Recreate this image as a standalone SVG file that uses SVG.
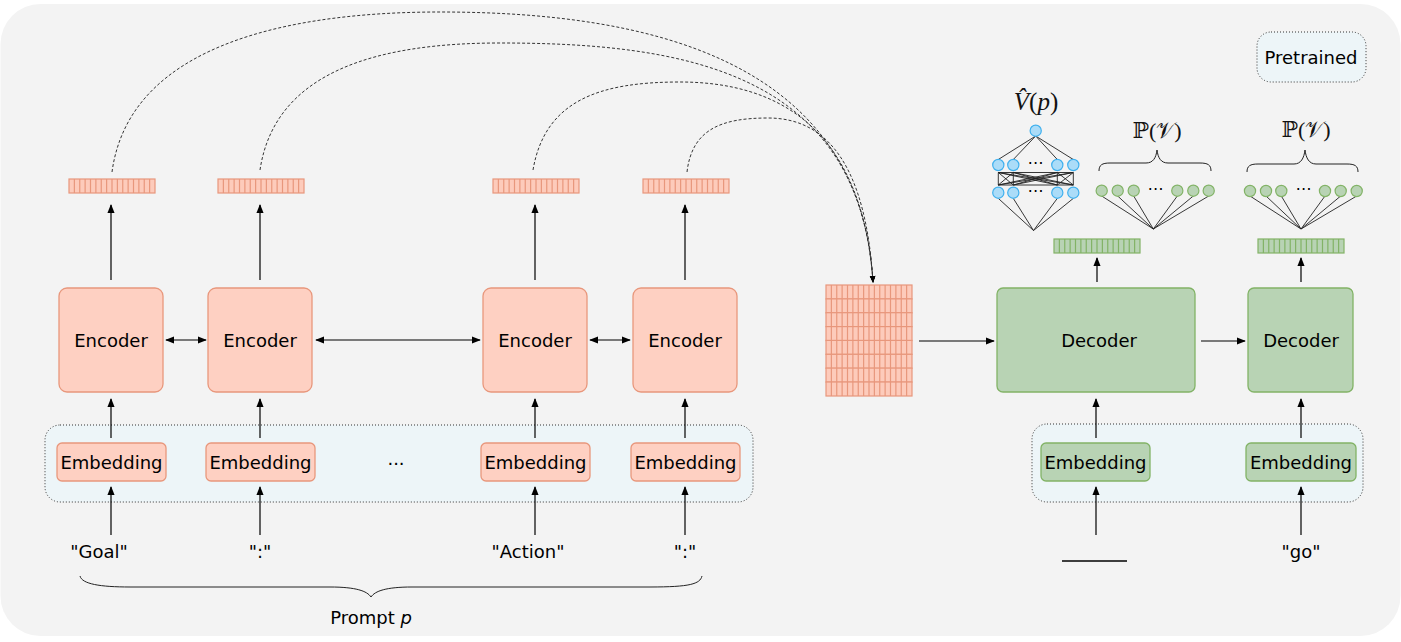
<svg xmlns="http://www.w3.org/2000/svg" xmlns:xlink="http://www.w3.org/1999/xlink" width="1401" height="642" viewBox="0 0 1401 642">
  <style>
    .lbl { font-family: "DejaVu Sans", "Liberation Sans", sans-serif; font-size: 18px; fill: #000; text-anchor: middle; dominant-baseline: central; }
    .dots { font-size: 16px; }
    .math { font-family: "Liberation Serif", "DejaVu Serif", serif; font-size: 22px; fill: #111; text-anchor: middle; }
    .math.big { font-size: 25px; }
    .enc { fill: #fed0c2; stroke: #e8977c; stroke-width: 1.3; }
    .dec { fill: #b8d3b4; stroke: #82b366; stroke-width: 1.3; }
    .panel { fill: #edf5f8; stroke: #333; stroke-width: 1; stroke-dasharray: 1 2; }
    .arrow { fill: none; stroke: #000; stroke-width: 1.2; marker-end: url(#arr); }
    .arrow2 { fill: none; stroke: #000; stroke-width: 1.2; marker-start: url(#arr); marker-end: url(#arr); }
    .attn { fill: none; stroke: #333; stroke-width: 1; stroke-dasharray: 3 2; }
    .net { stroke: #222; stroke-width: 0.9; fill: none; }
    .bnode { fill: #abdcf8; stroke: #3fb0ee; stroke-width: 1.2; }
    .gnode { fill: #b8d3b4; stroke: #82b366; stroke-width: 1.2; }
    .brace { fill: none; stroke: #222; stroke-width: 1; }
  </style>
  <defs>
    <marker id="arr" viewBox="0 0 10 10" refX="9" refY="5" markerWidth="9" markerHeight="9" markerUnits="userSpaceOnUse" orient="auto-start-reverse">
      <path d="M0 1 L10 5 L0 9 Z" fill="#000"/>
    </marker>
    <marker id="arrS" viewBox="0 0 10 10" refX="9" refY="5" markerWidth="7" markerHeight="7" markerUnits="userSpaceOnUse" orient="auto">
      <path d="M0 1 L10 5 L0 9 Z" fill="#000"/>
    </marker>
    <!-- 16-cell hidden-state vectors -->
    <g id="vecPink">
      <rect x="0" y="0" width="86" height="14" fill="#fdcbbb" stroke="#e8977c" stroke-width="1.2"/>
      <path d="M5.375 0V14M10.75 0V14M16.125 0V14M21.5 0V14M26.875 0V14M32.25 0V14M37.625 0V14M43 0V14M48.375 0V14M53.75 0V14M59.125 0V14M64.5 0V14M69.875 0V14M75.25 0V14M80.625 0V14" stroke="#e8977c" stroke-width="1.2"/>
    </g>
    <g id="vecGreen">
      <rect x="0" y="0" width="86" height="14" fill="#b8d3b4" stroke="#82b366" stroke-width="1.2"/>
      <path d="M5.375 0V14M10.75 0V14M16.125 0V14M21.5 0V14M26.875 0V14M32.25 0V14M37.625 0V14M43 0V14M48.375 0V14M53.75 0V14M59.125 0V14M64.5 0V14M69.875 0V14M75.25 0V14M80.625 0V14" stroke="#82b366" stroke-width="1.2"/>
    </g>
  </defs>

  <!-- canvas -->
  <rect x="0.5" y="4" width="1400" height="632" rx="40" ry="40" fill="#f3f3f3"/>

  <!-- shared embedding panels -->
  <g id="panel-left"><rect class="panel" x="45" y="425" width="708" height="77" rx="15"/></g>
  <g id="panel-right"><rect class="panel" x="1032" y="424" width="331" height="78" rx="15"/></g>

  <!-- legend -->
  <g id="legend-pretrained">
    <rect class="panel" x="1257" y="32" width="109" height="50" rx="14"/>
    <text class="lbl" x="1311" y="57">Pretrained</text>
  </g>

  <!-- encoders -->
  <g id="encoder-1"><rect class="enc" x="59" y="288" width="104" height="104" rx="8"/><text class="lbl" x="111" y="340">Encoder</text></g>
  <g id="encoder-2"><rect class="enc" x="208" y="288" width="104" height="104" rx="8"/><text class="lbl" x="260" y="340">Encoder</text></g>
  <g id="encoder-3"><rect class="enc" x="483" y="288" width="104" height="104" rx="8"/><text class="lbl" x="535" y="340">Encoder</text></g>
  <g id="encoder-4"><rect class="enc" x="633" y="288" width="104" height="104" rx="8"/><text class="lbl" x="685" y="340">Encoder</text></g>

  <!-- encoder embeddings -->
  <g id="emb-1"><rect class="enc" x="57" y="443" width="109" height="38" rx="5"/><text class="lbl" x="111.5" y="462">Embedding</text></g>
  <g id="emb-2"><rect class="enc" x="206" y="443" width="109" height="38" rx="5"/><text class="lbl" x="260.5" y="462">Embedding</text></g>
  <g id="emb-3"><rect class="enc" x="481" y="443" width="109" height="38" rx="5"/><text class="lbl" x="535.5" y="462">Embedding</text></g>
  <g id="emb-4"><rect class="enc" x="631" y="443" width="109" height="38" rx="5"/><text class="lbl" x="685.5" y="462">Embedding</text></g>
  <g id="emb-gap"><text class="lbl" x="396" y="458">...</text></g>

  <!-- encoder outputs -->
  <g id="hidden-1"><use xlink:href="#vecPink" x="69" y="179"/></g>
  <g id="hidden-2"><use xlink:href="#vecPink" x="218" y="179"/></g>
  <g id="hidden-3"><use xlink:href="#vecPink" x="493" y="179"/></g>
  <g id="hidden-4"><use xlink:href="#vecPink" x="643" y="179"/></g>

  <!-- stacked encoder states -->
  <g id="memory">
    <use xlink:href="#vecPink" x="826" y="285"/>
    <use xlink:href="#vecPink" x="826" y="298.9"/>
    <use xlink:href="#vecPink" x="826" y="312.7"/>
    <use xlink:href="#vecPink" x="826" y="326.6"/>
    <use xlink:href="#vecPink" x="826" y="340.4"/>
    <use xlink:href="#vecPink" x="826" y="354.3"/>
    <use xlink:href="#vecPink" x="826" y="368.1"/>
    <use xlink:href="#vecPink" x="826" y="382"/>
  </g>

  <!-- decoders -->
  <g id="decoder-1"><rect class="dec" x="997" y="288" width="198" height="104" rx="6"/><text class="lbl" x="1099" y="340">Decoder</text></g>
  <g id="decoder-2"><rect class="dec" x="1248" y="288" width="105" height="104" rx="6"/><text class="lbl" x="1301" y="340">Decoder</text></g>
  <g id="dec-emb-1"><rect class="dec" x="1041" y="443" width="109" height="38" rx="5"/><text class="lbl" x="1095.5" y="462">Embedding</text></g>
  <g id="dec-emb-2"><rect class="dec" x="1246" y="443" width="110" height="38" rx="5"/><text class="lbl" x="1301" y="462">Embedding</text></g>
  <g id="dec-hidden-1"><use xlink:href="#vecGreen" x="1054" y="239"/></g>
  <g id="dec-hidden-2"><use xlink:href="#vecGreen" x="1258" y="239"/></g>

  <!-- value head -->
  <g id="value-head">
    <text class="math big" x="1036" y="110"><tspan font-style="italic">V̂</tspan>(<tspan font-style="italic">p</tspan>)</text>
    <path class="net" d="M1035.7 136 L998.3 159.5 M1035.7 136 L1013.3 159.5 M1035.7 136 L1057.3 159.5 M1035.7 136 L1073.3 159.5"/>
    <path class="net" d="M998 172.5H1073M998 185H1073
      M998.3 172.5L998.3 185M998.3 172.5L1013.3 185M998.3 172.5L1057.3 185M998.3 172.5L1073.3 185
      M1013.3 172.5L998.3 185M1013.3 172.5L1013.3 185M1013.3 172.5L1057.3 185M1013.3 172.5L1073.3 185
      M1057.3 172.5L998.3 185M1057.3 172.5L1013.3 185M1057.3 172.5L1057.3 185M1057.3 172.5L1073.3 185
      M1073.3 172.5L998.3 185M1073.3 172.5L1013.3 185M1073.3 172.5L1057.3 185M1073.3 172.5L1073.3 185"/>
    <path class="net" d="M998.3 198.4 L1033.5 230.5 M1013.3 198.4 L1033.5 230.5 M1057.3 198.4 L1033.5 230.5 M1073.3 198.4 L1033.5 230.5"/>
    <circle class="bnode" cx="1035.7" cy="130.7" r="5.6"/>
    <circle class="bnode" cx="998.3" cy="165" r="5.6"/>
    <circle class="bnode" cx="1013.3" cy="165" r="5.6"/>
    <circle class="bnode" cx="1057.3" cy="165" r="5.6"/>
    <circle class="bnode" cx="1073.3" cy="165" r="5.6"/>
    <circle class="bnode" cx="998.3" cy="192.7" r="5.6"/>
    <circle class="bnode" cx="1013.3" cy="192.7" r="5.6"/>
    <circle class="bnode" cx="1057.3" cy="192.7" r="5.6"/>
    <circle class="bnode" cx="1073.3" cy="192.7" r="5.6"/>
    <text class="lbl dots" x="1035.5" y="162">⋯</text>
    <text class="lbl dots" x="1035.5" y="190">⋯</text>
  </g>

  <!-- token distribution heads -->
  <g id="lm-head-1">
    <text class="math" x="1157" y="138">ℙ(𝒱)</text>
    <path class="brace" d="M1099 171 C1099 165 1102 163 1110 163 L1146 163 C1153 163 1156 158 1157 150 C1158 158 1161 163 1168 163 L1200 163 C1208 163 1211 165 1211 171"/>
    <path class="net" d="M1101.7 196 L1153.3 229 M1117.7 196 L1153.3 229 M1133.7 196 L1153.3 229 M1177.3 196 L1153.3 229 M1193.3 196 L1153.3 229 M1208.7 196 L1153.3 229"/>
    <circle class="gnode" cx="1101.7" cy="190.7" r="5.6"/>
    <circle class="gnode" cx="1117.7" cy="190.7" r="5.6"/>
    <circle class="gnode" cx="1133.7" cy="190.7" r="5.6"/>
    <circle class="gnode" cx="1177.3" cy="190.7" r="5.6"/>
    <circle class="gnode" cx="1193.3" cy="190.7" r="5.6"/>
    <circle class="gnode" cx="1208.7" cy="190.7" r="5.6"/>
    <text class="lbl dots" x="1155.5" y="188">⋯</text>
  </g>
  <g id="lm-head-2">
    <text class="math" x="1306" y="137">ℙ(𝒱)</text>
    <path class="brace" d="M1247 172 C1247 166 1250 164 1258 164 L1294 164 C1301 164 1304 158 1305 150 C1306 158 1309 164 1316 164 L1347 164 C1355 164 1358 166 1358 172"/>
    <path class="net" d="M1250 196 L1301 229 M1266 196 L1301 229 M1281.3 196 L1301 229 M1325 196 L1301 229 M1340.7 196 L1301 229 M1356.7 196 L1301 229"/>
    <circle class="gnode" cx="1250" cy="191" r="5.6"/>
    <circle class="gnode" cx="1266" cy="191" r="5.6"/>
    <circle class="gnode" cx="1281.3" cy="191" r="5.6"/>
    <circle class="gnode" cx="1325" cy="191" r="5.6"/>
    <circle class="gnode" cx="1340.7" cy="191" r="5.6"/>
    <circle class="gnode" cx="1356.7" cy="191" r="5.6"/>
    <text class="lbl dots" x="1303.5" y="188">⋯</text>
  </g>

  <!-- input tokens -->
  <g id="tokens">
    <text class="lbl" x="99" y="551">"Goal"</text>
    <text class="lbl" x="260" y="551">":"</text>
    <text class="lbl" x="528" y="551">"Action"</text>
    <text class="lbl" x="685" y="551">":"</text>
    <text class="lbl" x="1301" y="551">"go"</text>
    <line x1="1062" y1="561" x2="1127" y2="561" stroke="#000" stroke-width="1.3"/>
  </g>

  <!-- prompt brace -->
  <g id="prompt">
    <path class="brace" stroke-width="1.5" d="M80 576 C82 584 100 587 130 587 L330 587 C356 587 367 591 371 597 C375 591 386 587 412 587 L650 587 C690 587 700 584 702 576"/>
    <text class="lbl" x="371" y="617">Prompt <tspan font-style="italic">p</tspan></text>
  </g>

  <!-- connectors -->
  <g id="connectors">
    <!-- token to embedding -->
    <path class="arrow" d="M111 535 V487"/>
    <path class="arrow" d="M260 535 V487"/>
    <path class="arrow" d="M535 535 V487"/>
    <path class="arrow" d="M685 535 V487"/>
    <path class="arrow" d="M1096 535 V487"/>
    <path class="arrow" d="M1301 535 V487"/>
    <!-- embedding to block -->
    <path class="arrow" d="M111 438 V399"/>
    <path class="arrow" d="M260 438 V399"/>
    <path class="arrow" d="M535 438 V399"/>
    <path class="arrow" d="M685 438 V399"/>
    <path class="arrow" d="M1096 438 V399"/>
    <path class="arrow" d="M1301 438 V399"/>
    <!-- encoder to hidden state -->
    <path class="arrow" d="M111 280 V205"/>
    <path class="arrow" d="M260 280 V205"/>
    <path class="arrow" d="M535 280 V205"/>
    <path class="arrow" d="M685 280 V205"/>
    <!-- bidirectional links between encoders -->
    <path class="arrow2" d="M166 340 H206"/>
    <path class="arrow2" d="M316 340 H480"/>
    <path class="arrow2" d="M590 340 H630"/>
    <!-- decoder flow -->
    <path class="arrow" d="M919 341 H994"/>
    <path class="arrow" d="M1201 341 H1245"/>
    <path class="arrow" d="M1097 282 V258"/>
    <path class="arrow" d="M1301 282 V258"/>
    <!-- hidden states gathered into memory -->
    <path class="attn" marker-end="url(#arrS)" d="M112 172 C130 40 300 12 440 12 C650 12 860 60 873 282"/>
    <path class="attn" marker-end="url(#arrS)" d="M260 170 C275 70 380 43 500 43 C680 43 860 70 873 282"/>
    <path class="attn" marker-end="url(#arrS)" d="M533 170 C545 100 600 82 680 82 C780 82 862 130 873 282"/>
    <path class="attn" marker-end="url(#arrS)" d="M687 172 C692 130 720 118 768 118 C830 118 866 170 873 282"/>
  </g>
</svg>
